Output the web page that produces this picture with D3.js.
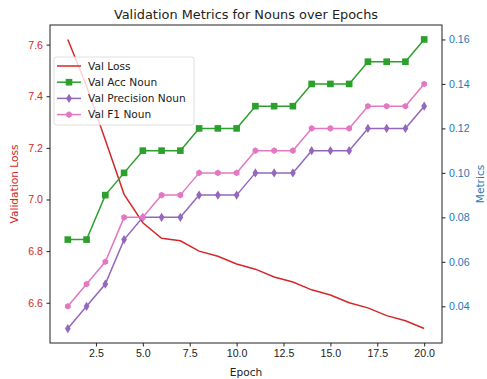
<!DOCTYPE html>
<html>
<head>
<meta charset="utf-8">
<script src="https://cdn.jsdelivr.net/npm/d3@7"></script>
<style>
  body { margin: 0; background: #fff; }
  svg { font-family: "DejaVu Sans", sans-serif; }
</style>
</head>
<body>
<svg id="chart" width="487" height="379"></svg>
<script>
const epochs = d3.range(1, 21)
const valLoss = [7.62, 7.44, 7.23, 7.02, 6.91, 6.85, 6.84, 6.80, 6.78, 6.75,
                 6.73, 6.70, 6.68, 6.65, 6.63, 6.60, 6.58, 6.55, 6.53, 6.50]
const valAcc = [0.07, 0.07, 0.09, 0.10, 0.11, 0.11, 0.11, 0.12, 0.12, 0.12,
                0.13, 0.13, 0.13, 0.14, 0.14, 0.14, 0.15, 0.15, 0.15, 0.16]
const valPrecision = [0.03, 0.04, 0.05, 0.07, 0.08, 0.08, 0.08, 0.09, 0.09, 0.09,
                      0.10, 0.10, 0.10, 0.11, 0.11, 0.11, 0.12, 0.12, 0.12, 0.13]
const valF1 = [0.04, 0.05, 0.06, 0.08, 0.08, 0.09, 0.09, 0.10, 0.10, 0.10,
               0.11, 0.11, 0.11, 0.12, 0.12, 0.12, 0.13, 0.13, 0.13, 0.14]
const xTicks = [2.5, 5.0, 7.5, 10.0, 12.5, 15.0, 17.5, 20.0]
const lossTicks = [6.6, 6.8, 7.0, 7.2, 7.4, 7.6]
const metricTicks = [0.04, 0.06, 0.08, 0.10, 0.12, 0.14, 0.16]

const margins = {left: 50, right: 45, top: 25, bottom: 36}
const width = 487, height = 379
const fontSize = "10.6px"
const svg = d3.select("#chart")

// matplotlib style 5% padding
function padded(lo, hi) {
  const p = (hi - lo) * 0.05
  return [lo - p, hi + p]
}

const x = d3.scaleLinear().domain(padded(1, 20)).range([margins.left, width - margins.right])
const yL = d3.scaleLinear().domain(padded(d3.min(valLoss), d3.max(valLoss)))
  .range([height - margins.bottom, margins.top])
const allMetrics = valAcc.concat(valPrecision, valF1)
const yR = d3.scaleLinear().domain(padded(d3.min(allMetrics), d3.max(allMetrics)))
  .range([height - margins.bottom, margins.top])

const red = "#d62728", blue = "#1f77b4"

// hexagon marker
const hexagon = {
  draw(ctx, size) {
    const r = Math.sqrt(size / 2.598)
    for (let i = 0; i < 6; i++) {
      const a = Math.PI / 2 + i * Math.PI / 3
      const px = r * Math.cos(a), py = -r * Math.sin(a)
      if (i === 0) ctx.moveTo(px, py); else ctx.lineTo(px, py)
    }
    ctx.closePath()
  }
}
const thinDiamond = {
  draw(ctx, size) {
    const h = Math.sqrt(size) * 0.85, w = h * 0.62
    ctx.moveTo(0, -h)
    ctx.lineTo(w, 0)
    ctx.lineTo(0, h)
    ctx.lineTo(-w, 0)
    ctx.closePath()
  }
}

const series = [
  {name: "Val Acc Noun", values: valAcc, color: "#2ca02c", symbol: d3.symbolSquare, size: 44},
  {name: "Val Precision Noun", values: valPrecision, color: "#9467bd", symbol: thinDiamond, size: 30},
  {name: "Val F1 Noun", values: valF1, color: "#e377c2", symbol: hexagon, size: 28}
]

const plot = svg.append("g")

// loss line
plot.append("path")
  .datum(valLoss)
  .attr("fill", "none")
  .attr("stroke", red)
  .attr("stroke-width", 1.5)
  .attr("d", d3.line().x((d, i) => x(epochs[i])).y(d => yL(d)))

series.forEach(s => {
  plot.append("path")
    .datum(s.values)
    .attr("fill", "none")
    .attr("stroke", s.color)
    .attr("stroke-width", 1.5)
    .attr("d", d3.line().x((d, i) => x(epochs[i])).y(d => yR(d)))
  plot.selectAll(null)
    .data(s.values)
    .join("path")
    .attr("transform", (d, i) => `translate(${x(epochs[i])},${yR(d)})`)
    .attr("fill", s.color)
    .attr("d", d3.symbol(s.symbol, s.size))
})

// frame
svg.append("rect")
  .attr("x", margins.left).attr("y", margins.top)
  .attr("width", width - margins.left - margins.right)
  .attr("height", height - margins.top - margins.bottom)
  .attr("fill", "none").attr("stroke", "#222").attr("stroke-width", 1)

function styleAxis(g, color) {
  g.select(".domain").remove()
  g.selectAll(".tick line").attr("stroke", "#222")
  g.selectAll(".tick text").attr("fill", color).style("font-size", fontSize)
}

svg.append("g")
  .attr("transform", `translate(0,${height - margins.bottom})`)
  .call(d3.axisBottom(x).tickValues(xTicks).tickFormat(d3.format(".1f")).tickSizeOuter(0).tickSize(3.5).tickPadding(3))
  .call(g => styleAxis(g, "#222"))

svg.append("g")
  .attr("transform", `translate(${margins.left},0)`)
  .call(d3.axisLeft(yL).tickValues(lossTicks).tickFormat(d3.format(".1f")).tickSizeOuter(0).tickSize(3.5).tickPadding(3.5))
  .call(g => styleAxis(g, red))

svg.append("g")
  .attr("transform", `translate(${width - margins.right},0)`)
  .call(d3.axisRight(yR).tickValues(metricTicks).tickFormat(d3.format(".2f")).tickSizeOuter(0).tickSize(3.5).tickPadding(3.5))
  .call(g => styleAxis(g, blue))

// labels
svg.append("text")
  .attr("x", (margins.left + width - margins.right) / 2).attr("y", 18.5)
  .attr("text-anchor", "middle").style("font-size", "12.9px").attr("fill", "#222")
  .text("Validation Metrics for Nouns over Epochs")

svg.append("text")
  .attr("x", (margins.left + width - margins.right) / 2).attr("y", 375.5)
  .attr("text-anchor", "middle").style("font-size", fontSize).attr("fill", "#222")
  .text("Epoch")

svg.append("text")
  .attr("transform", `translate(18,${(margins.top + height - margins.bottom) / 2}) rotate(-90)`)
  .attr("text-anchor", "middle").style("font-size", fontSize).attr("fill", red)
  .text("Validation Loss")

svg.append("text")
  .attr("transform", `translate(484,${(margins.top + height - margins.bottom) / 2}) rotate(-90)`)
  .attr("text-anchor", "middle").style("font-size", fontSize).attr("fill", blue)
  .text("Metrics")

// legend
const legendItems = [{name: "Val Loss", color: red, symbol: null}].concat(series)
const legend = svg.append("g").attr("transform", "translate(54,57)")
legend.append("rect")
  .attr("width", 140).attr("height", 68).attr("rx", 2.5)
  .attr("fill", "white").attr("fill-opacity", 0.8)
  .attr("stroke", "#d5d5d5").attr("stroke-width", 0.8)
legendItems.forEach((s, i) => {
  const yy = 9 + i * 16.2
  const row = legend.append("g").attr("transform", `translate(0,${yy})`)
  row.append("line").attr("x1", 3).attr("x2", 27)
    .attr("stroke", s.color).attr("stroke-width", 1.5)
  if (s.symbol) {
    row.append("path").attr("transform", "translate(15,0)")
      .attr("fill", s.color).attr("d", d3.symbol(s.symbol, s.size))
  }
  row.append("text").attr("x", 34).attr("dy", "0.35em")
    .style("font-size", fontSize).attr("fill", "#222").text(s.name)
})
</script>
</body>
</html>
